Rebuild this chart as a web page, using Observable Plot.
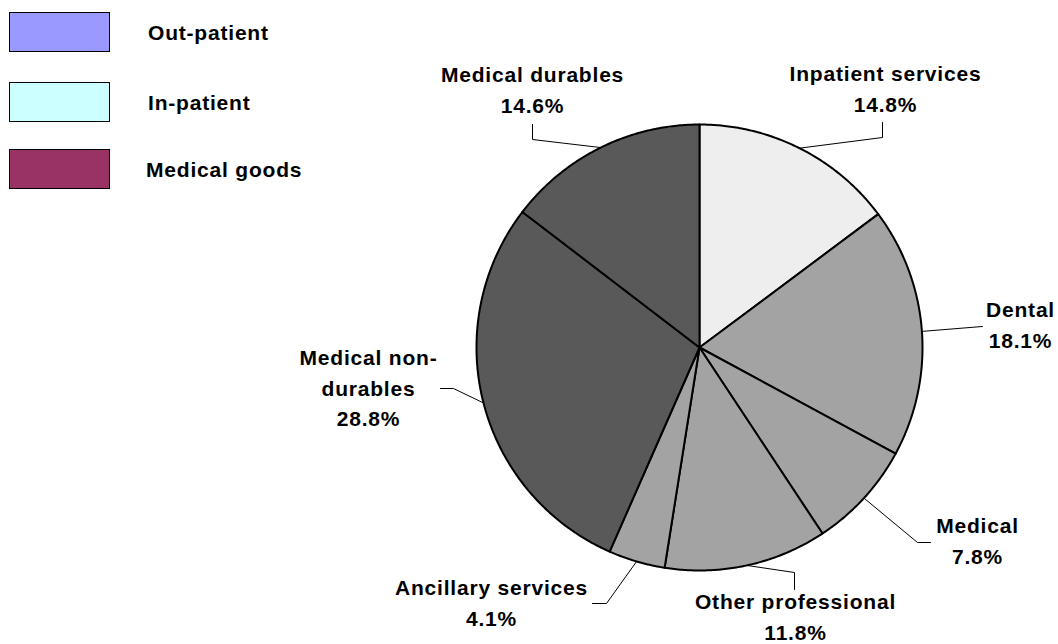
<!DOCTYPE html>
<html>
<head>
<meta charset="utf-8">
<script src="https://cdn.jsdelivr.net/npm/d3@7"></script>
<script src="https://cdn.jsdelivr.net/npm/@observablehq/plot@0.6"></script>
<style>
  html, body { margin: 0; padding: 0; background: #fff; }
  #wrap { position: relative; width: 1058px; height: 644px; font-family: "Liberation Sans", Arial, sans-serif; }
  #chart svg text { letter-spacing: 0.8px; }
  .leg { position: absolute; left: 0; top: 0; }
  .leg .box { position: absolute; width: 99px; height: 38px; border: 1.5px solid #000; }
  .leg .lab { position: absolute; font-weight: bold; font-size: 21px; letter-spacing: 0.8px; line-height: 21px; white-space: nowrap; }
</style>
</head>
<body>
<div id="wrap"><div id="chart"></div><div class="leg" id="legend"></div></div>
<script>
// ---- data ----
const sliceNames = ["Inpatient services", "Dental", "Medical", "Other professional", "Ancillary services", "Medical non-durables", "Medical durables"];
const sliceShares = [14.8, 18.1, 7.8, 11.8, 4.1, 28.8, 14.6];
const sliceLabelLines = [["Inpatient services"], ["Dental"], ["Medical"], ["Other professional"], ["Ancillary services"], ["Medical non-", "durables"], ["Medical durables"]];
const legendNames = ["Out-patient", "In-patient", "Medical goods"];

// ---- styles / layout ----
const sliceFills = ["#eeeeee", "#a3a3a3", "#a3a3a3", "#a3a3a3", "#a3a3a3", "#595959", "#595959"];
const legendFills = ["#9999ff", "#ccffff", "#993366"];
const W = 1058, H = 644, CX = 699, CY = 347, R = 223;
// label anchor (center x, first baseline) in pixels
const labelPos = [[885, 81], [1020, 317], [977, 533], [795, 609], [491, 595], [368, 365], [532, 82]];
// leader elbows in pixels
const leaderPts = [
  [[882, 137], [882, 122]],
  [[982, 326]],
  [[917, 542], [930, 542]],
  [[794, 572], [794, 589]],
  [[606, 603], [592, 603]],
  [[453, 388], [440, 388]],
  [[532, 139], [532, 124]]
];
const FS = 21;
const TEXT_SHIFT = 7;

const ux = px => (px - CX) / R;
const uy = py => (CY - py) / R;

// slices as polygons in unit-circle coordinates (angle clockwise from 12 o'clock)
const total = d3.sum(sliceShares);
const polys = [];
const mids = [];
let acc = 0;
sliceShares.forEach((v, i) => {
  const a0 = acc / total * 2 * Math.PI;
  acc += v;
  const a1 = acc / total * 2 * Math.PI;
  mids.push((a0 + a1) / 2);
  const n = Math.max(2, Math.ceil((a1 - a0) / (Math.PI / 360)));
  polys.push({name: sliceNames[i], fill: sliceFills[i], x: 0, y: 0});
  for (let k = 0; k <= n; k++) {
    const a = a0 + (a1 - a0) * k / n;
    polys.push({name: sliceNames[i], fill: sliceFills[i], x: Math.sin(a), y: Math.cos(a)});
  }
  polys.push({name: sliceNames[i], fill: sliceFills[i], x: 0, y: 0});
});

const leaders = [];
sliceNames.forEach((nm, i) => {
  leaders.push({name: nm, x: Math.sin(mids[i]), y: Math.cos(mids[i])});
  leaderPts[i].forEach(([px, py]) => leaders.push({name: nm, x: ux(px), y: uy(py)}));
});

const labels = sliceNames.map((nm, i) => ({
  text: sliceLabelLines[i].join("\n") + "\n" + sliceShares[i].toFixed(1) + "%",
  x: ux(labelPos[i][0]),
  y: uy(labelPos[i][1] - 0.71 * FS - TEXT_SHIFT)
}));

const plot = Plot.plot({
  width: W, height: H,
  margin: 0,
  x: {domain: [ux(0), ux(W)], range: [0, W], axis: null},
  y: {domain: [uy(0), uy(H)], range: [0, H], axis: null},
  color: {type: "identity"},
  style: {fontFamily: "'Liberation Sans', Arial, sans-serif", background: "#fff"},
  marks: [
    Plot.line(polys, {x: "x", y: "y", z: "name", fill: "fill", stroke: "#000", strokeWidth: 2, strokeLinejoin: "round", curve: "linear"}),
    Plot.line(leaders, {x: "x", y: "y", z: "name", stroke: "#000", strokeWidth: 1}),
    Plot.text(labels, {x: "x", y: "y", text: "text", textAnchor: "middle", lineAnchor: "top", lineHeight: 1.45, fontSize: FS, fontWeight: "bold", fill: "#000"})
  ]
});
document.getElementById("chart").appendChild(plot);

// legend
const leg = document.getElementById("legend");
const legTops = [12, 82, 149];
legendNames.forEach((nm, i) => {
  const b = document.createElement("div");
  b.className = "box";
  b.style.left = "9px"; b.style.top = legTops[i] + "px"; b.style.background = legendFills[i];
  leg.appendChild(b);
  const t = document.createElement("div");
  t.className = "lab";
  t.textContent = nm;
  t.style.left = (i === 2 ? 146 : 148) + "px";
  t.style.top = (legTops[i] + 10) + "px";
  leg.appendChild(t);
});
</script>
</body>
</html>
